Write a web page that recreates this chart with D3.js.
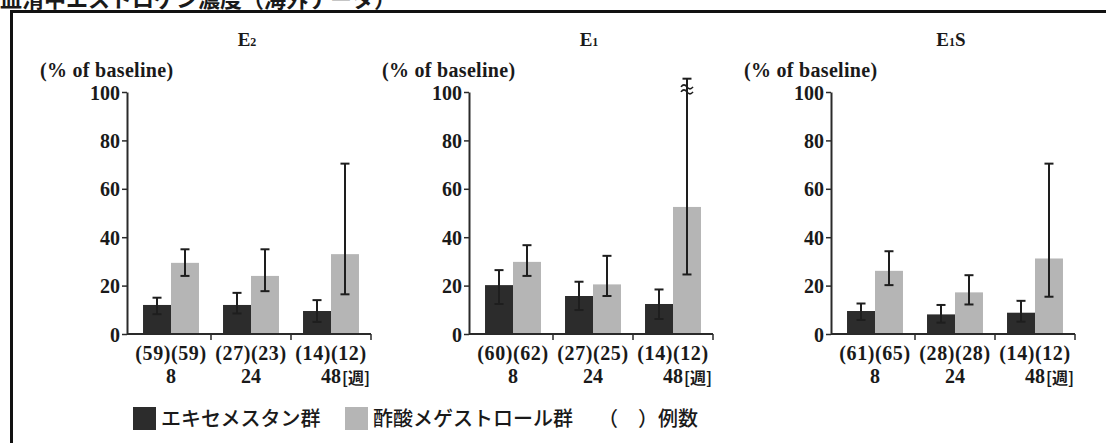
<!DOCTYPE html>
<html>
<head>
<meta charset="utf-8">
<script src="https://cdn.jsdelivr.net/npm/d3@7"></script>
<style>
  body { margin: 0; background: #fff; }
  svg { display: block; }
</style>
</head>
<body>
<svg width="1106" height="443"></svg>
<script>
var svg = d3.select("svg"),
    width = +svg.attr("width"),
    height = +svg.attr("height");

// data (% of baseline)
var weeks = ["8", "24", "48"];
var groups = ["exe", "mga"];

var e2Exe = [12.0, 12.0, 9.5];
var e2ExeLo = [8.2, 8.5, 5.0];
var e2ExeHi = [15.0, 17.0, 14.0];
var e2Mga = [29.4, 24.0, 33.0];
var e2MgaLo = [24.0, 17.7, 16.4];
var e2MgaHi = [35.0, 35.0, 70.4];
var e2N = [[59, 59], [27, 23], [14, 12]];

var e1Exe = [20.2, 15.7, 12.4];
var e1ExeLo = [12.4, 9.9, 6.2];
var e1ExeHi = [26.4, 21.6, 18.4];
var e1Mga = [29.8, 20.5, 52.5];
var e1MgaLo = [24.0, 15.7, 24.6];
var e1MgaHi = [36.7, 32.3, 105.5]; // last one runs off the scale (axis break)
var e1N = [[60, 62], [27, 25], [14, 12]];

var e1sExe = [9.5, 8.1, 8.8];
var e1sExeLo = [5.8, 4.7, 5.1];
var e1sExeHi = [12.6, 12.0, 13.7];
var e1sMga = [26.1, 17.2, 31.2];
var e1sMgaLo = [20.2, 12.2, 15.4];
var e1sMgaHi = [34.2, 24.3, 70.4];
var e1sN = [[61, 65], [28, 28], [14, 12]];

var yTicks = [0, 20, 40, 60, 80, 100];

var colors = { exe: "#2c2c2c", mga: "#b5b5b5" };
var legendLabels = ["エキセメスタン群", "酢酸メゲストロール群"];

var SERIF = '"Liberation Serif", "Times New Roman", serif';
var JP = '"Noto Sans CJK JP", sans-serif';

function rows(mean, lo, hi) {
    return mean.map(function(v, i) { return { v: v, lo: lo[i], hi: hi[i] }; });
}

function serifText(sel, size) {
    return sel.style("font-family", SERIF).style("font-weight", "bold")
        .style("font-size", size + "px").attr("fill", "#1a1a1a");
}

var panels = [
    { sub: "2", exe: rows(e2Exe, e2ExeLo, e2ExeHi), mga: rows(e2Mga, e2MgaLo, e2MgaHi), n: e2N, axisX: 127 },
    { sub: "1", exe: rows(e1Exe, e1ExeLo, e1ExeHi), mga: rows(e1Mga, e1MgaLo, e1MgaHi), n: e1N, axisX: 469, breakAt: 2 },
    { sub: "1", tail: "S", exe: rows(e1sExe, e1sExeLo, e1sExeHi), mga: rows(e1sMga, e1sMgaLo, e1sMgaHi), n: e1sN, axisX: 831 }
];

// cut-off page heading above the frame
svg.append("text")
    .attr("x", 0).attr("y", 7)
    .style("font-family", JP).style("font-size", "22px").style("font-weight", "bold")
    .attr("fill", "#1a1a1a")
    .text("血清中エストロゲン濃度（海外データ）");

// frame
svg.append("rect")
    .attr("x", 11.5).attr("y", 11.5)
    .attr("width", width + 20).attr("height", height + 20)
    .attr("fill", "none").attr("stroke", "#111").attr("stroke-width", 3);

var y = d3.scaleLinear().domain([0, 100]).range([334, 92]);

panels.forEach(function(p) {
    var g = svg.append("g");
    var x0 = p.axisX + 4;
    var x = d3.scaleBand().domain(weeks).range([x0, x0 + 240]);
    var xs = d3.scaleBand().domain(groups).range([0, x.bandwidth()]).paddingOuter(0.43);
    var mid = x0 + 116;

    // panel title E2 / E1 / E1S
    var t = serifText(g.append("text"), 19)
        .attr("x", mid).attr("y", 46)
        .attr("text-anchor", "middle");
    t.append("tspan").text("E");
    t.append("tspan").style("font-size", "12px").text(p.sub);
    if (p.tail) t.append("tspan").text(p.tail);

    serifText(g.append("text"), 20)
        .attr("x", p.axisX - 87).attr("y", 77)
        .style("letter-spacing", "0.3px")
        .text("(% of baseline)");

    // bars
    groups.forEach(function(k) {
        g.selectAll(".bar-" + k)
            .data(p[k])
            .enter().append("rect")
                .attr("x", function(d, i) { return x(weeks[i]) + xs(k); })
                .attr("y", function(d) { return y(d.v); })
                .attr("width", xs.bandwidth())
                .attr("height", function(d) { return y(0) - y(d.v); })
                .attr("fill", colors[k]);
    });

    // error bars
    groups.forEach(function(k) {
        p[k].forEach(function(d, i) {
            var cx = x(weeks[i]) + xs(k) + xs.bandwidth() / 2;
            var eg = g.append("g").attr("stroke", "#1e1e1e").attr("stroke-width", 2);
            eg.append("line").attr("x1", cx).attr("x2", cx).attr("y1", y(d.lo)).attr("y2", y(d.hi));
            eg.append("line").attr("x1", cx - 4.5).attr("x2", cx + 4.5).attr("y1", y(d.lo)).attr("y2", y(d.lo));
            eg.append("line").attr("x1", cx - 4.5).attr("x2", cx + 4.5).attr("y1", y(d.hi)).attr("y2", y(d.hi));
            if (k === "mga" && p.breakAt === i) {
                var by = y(101.5);
                [-2.5, 2.5].forEach(function(dy) {
                    g.append("path")
                        .attr("d", "M" + (cx - 6) + "," + (by + dy + 1) + " q3,-4 6,0 t6,0")
                        .attr("fill", "none").attr("stroke", "#1e1e1e").attr("stroke-width", 1.6);
                });
            }
        });
    });

    // y axis
    var yAxis = g.append("g")
        .attr("transform", "translate(" + p.axisX + ",0)")
        .call(d3.axisLeft(y).tickValues(yTicks).tickSize(5).tickPadding(2).tickSizeOuter(0));
    yAxis.select(".domain").attr("stroke", "#2a2a2a").attr("stroke-width", 2);
    yAxis.selectAll(".tick line").attr("stroke", "#2a2a2a").attr("stroke-width", 1.5);
    serifText(yAxis.selectAll(".tick text"), 20).attr("dy", "0.35em");

    // x axis line with ticks at group boundaries
    g.append("line")
        .attr("x1", p.axisX).attr("x2", x0 + 240)
        .attr("y1", y(0)).attr("y2", y(0))
        .attr("stroke", "#2a2a2a").attr("stroke-width", 2);
    weeks.forEach(function(w) {
        var bx = x(w) + x.bandwidth();
        g.append("line").attr("x1", bx).attr("x2", bx)
            .attr("y1", y(0)).attr("y2", y(0) + 6)
            .attr("stroke", "#2a2a2a").attr("stroke-width", 1.5);
    });

    // counts and week labels
    weeks.forEach(function(w, i) {
        var cx = x(w) + x.bandwidth() / 2;
        serifText(g.append("text"), 20)
            .attr("x", cx).attr("y", 360)
            .attr("text-anchor", "middle")
            .style("letter-spacing", "0.6px")
            .text("(" + p.n[i][0] + ")(" + p.n[i][1] + ")");
        var wt = serifText(g.append("text"), 20)
            .attr("x", cx).attr("y", 383)
            .attr("text-anchor", "middle")
            .text(w);
        if (i === weeks.length - 1) {
            var wlen = wt.node().getComputedTextLength();
            g.append("text")
                .attr("x", cx + wlen / 2 + 1).attr("y", 384)
                .style("font-family", JP).style("font-size", "16px").style("font-weight", "bold")
                .attr("fill", "#1a1a1a")
                .text("[週]");
        }
    });
});

// legend
var legend = svg.append("g");
var legendX = [133, 345];
groups.forEach(function(k, i) {
    legend.append("rect")
        .attr("x", legendX[i]).attr("y", 407)
        .attr("width", 23).attr("height", 23)
        .attr("fill", colors[k]);
    legend.append("text")
        .attr("x", legendX[i] + 28).attr("y", 426)
        .style("font-family", JP).style("font-size", "20px").style("font-weight", "500")
        .attr("fill", "#1a1a1a")
        .text(legendLabels[i]);
});
legend.append("text")
    .attr("x", 598).attr("y", 426)
    .style("font-family", JP).style("font-size", "20px").style("font-weight", "500")
    .attr("fill", "#1a1a1a")
    .text("（　）例数");
</script>
</body>
</html>
